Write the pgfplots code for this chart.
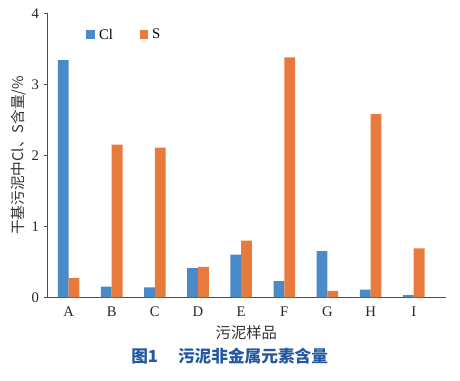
\documentclass[border=0pt]{standalone}
\usepackage{fontspec}
\setmainfont{Liberation Serif}
\newfontfamily\cjk{Noto Sans CJK SC}
\usepackage{pgfplots}
\pgfplotsset{compat=1.18}
\definecolor{clblue}{RGB}{74,138,200}
\definecolor{sorange}{RGB}{232,122,62}
\definecolor{capblue}{RGB}{36,88,160}
\pgfplotstableread{
x cl s
0 3.34 0.27
1 0.15 2.15
2 0.14 2.11
3 0.41 0.43
4 0.60 0.80
5 0.23 3.38
6 0.65 0.09
7 0.11 2.58
8 0.03 0.69
}\datatab
\begin{document}
\begin{tikzpicture}
\useasboundingbox (-35.25pt,-62pt) rectangle (309.75pt,223pt);
\begin{axis}[
  scale only axis,
  width=299pt, height=213pt,
  xmin=-0.5, xmax=8.74,
  ymin=0, ymax=4,
  axis lines=left,
  axis line style={-, draw=black!70, line width=0.6pt},
  xtick={0,...,8},
  xticklabels={A,B,C,D,E,F,G,H,I},
  major x tick style={draw=none},
  ytick={0,1,2,3,4},
  ytick style={draw=black!70},
  tick align=outside,
  major tick length=2.5pt,
  tick label style={font=\fontsize{11}{13}\selectfont, text=black!85},
  /pgf/number format/assume math mode=true,
  xticklabel style={yshift=-1pt},
  xlabel={\cjk 污泥样品},
  xlabel style={font=\fontsize{11.5}{13}\selectfont, text=black!80, yshift=0pt},
  ylabel={\cjk 干基污泥中Cl、S含量/\%},
  ylabel style={font=\fontsize{11}{13}\selectfont, text=black!80, yshift=-3pt},
  legend style={at={(0.088,0.965)}, anchor=north west, draw=none, fill=none,
    font=\fontsize{11}{13}\selectfont, column sep=1pt,
    /tikz/every even column/.append style={column sep=18pt}},
  legend columns=2,
  legend image code/.code={\fill[#1] (0pt,-3pt) rectangle (6.5pt,3.5pt);},
  clip=false,
]
\addplot[ybar, bar width=0.25, bar shift=-0.125, fill=clblue, draw=none] table[x=x,y=cl]{\datatab};
\addlegendentry{Cl}
\addplot[ybar, bar width=0.25, bar shift=0.125, fill=sorange, draw=none] table[x=x,y=s]{\datatab};
\addlegendentry{S}
\end{axis}
\node[font=\cjk\bfseries\fontsize{12.5}{14}\selectfont, text=capblue] at (137pt,-44pt) {图1\hspace{1.2em}污泥非金属元素含量};
\end{tikzpicture}
\end{document}
